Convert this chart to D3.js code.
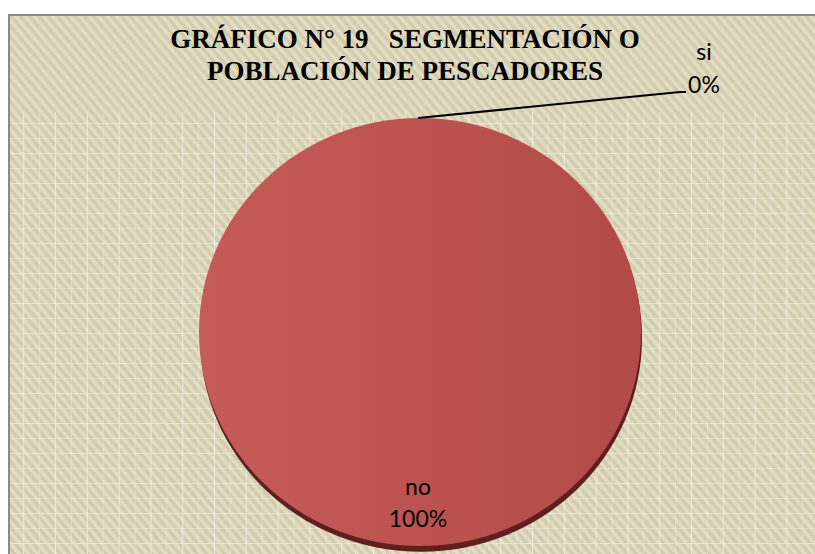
<!DOCTYPE html>
<html>
<head>
<meta charset="utf-8">
<script src="https://cdn.jsdelivr.net/npm/d3@7"></script>
<style>
  body { margin: 0; background: #fff; }
  svg { display: block; }
  .title { font-family: "Liberation Serif", "Times New Roman", "DejaVu Serif", serif; font-weight: bold; white-space: pre; }
</style>
</head>
<body>
<div id="chart"></div>
<script>
var categories = ["si", "no"];
var values = [0, 100];
var percentLabels = ["0%", "100%"];
var titleLines = ["GRÁFICO N° 19   SEGMENTACIÓN O", "POBLACIÓN DE PESCADORES"];

var W = 815, H = 554;
var cx = 420, cy = 332, rx = 221, ry = 214;

var svg = d3.select("#chart").append("svg")
    .attr("width", W)
    .attr("height", H);

var defs = svg.append("defs");

// diagonal texture of the chart area
var stripes = defs.append("pattern")
    .attr("id", "stripes")
    .attr("patternUnits", "userSpaceOnUse")
    .attr("width", 7).attr("height", 7)
    .attr("patternTransform", "rotate(-40)");
stripes.append("rect").attr("width", 7).attr("height", 7).attr("fill", "#d2ccac");
stripes.append("rect").attr("width", 3.5).attr("height", 7).attr("fill", "#e2ddc4");

// light grid of the plot area
var grid = defs.append("pattern")
    .attr("id", "grid")
    .attr("patternUnits", "userSpaceOnUse")
    .attr("x", 55).attr("y", 123)
    .attr("width", 31.8).attr("height", 30);
grid.append("rect").attr("x", 0).attr("y", 0).attr("width", 1).attr("height", 30).attr("fill", "#f4f1e6").attr("opacity", 0.8);
grid.append("rect").attr("x", 15.9).attr("y", 0).attr("width", 1).attr("height", 30).attr("fill", "#f4f1e6").attr("opacity", 0.4);
grid.append("rect").attr("x", 0).attr("y", 0).attr("width", 31.8).attr("height", 1).attr("fill", "#f4f1e6").attr("opacity", 0.6);
grid.append("rect").attr("x", 0).attr("y", 15).attr("width", 31.8).attr("height", 1).attr("fill", "#f4f1e6").attr("opacity", 0.4);

var pieGrad = defs.append("linearGradient")
    .attr("id", "pieGrad")
    .attr("x1", "0%").attr("y1", "0%").attr("x2", "100%").attr("y2", "0%");
pieGrad.append("stop").attr("offset", "0%").attr("stop-color", "#c65c59");
pieGrad.append("stop").attr("offset", "100%").attr("stop-color", "#b14a48");

// chart frame
svg.append("rect")
    .attr("x", 9).attr("y", 15)
    .attr("width", W).attr("height", H)
    .attr("fill", "url(#stripes)")
    .attr("stroke", "#8a8a8a")
    .attr("stroke-width", 2);

svg.append("rect")
    .attr("x", 10).attr("y", 112)
    .attr("width", W - 10).attr("height", H - 112)
    .attr("fill", "url(#grid)");

// title
svg.append("g").selectAll("text")
    .data(titleLines)
    .enter().append("text")
    .attr("class", "title")
    .attr("x", 405)
    .attr("y", function(d, i) { return 48 + i * 32; })
    .attr("text-anchor", "middle")
    .attr("font-size", 27)
    .attr("fill", "#000")
    .text(function(d) { return d; });

// pie
var pie = d3.pie().sort(null).value(function(d) { return d; });
var arcs = pie(values);
var arc = d3.arc().innerRadius(0).outerRadius(rx);

var pieG = svg.append("g")
    .attr("transform", "translate(" + cx + "," + cy + ") scale(1," + (ry / rx) + ")");

// shadow under the disk
pieG.append("ellipse")
    .attr("cx", 1).attr("cy", 6)
    .attr("rx", rx).attr("ry", rx)
    .attr("fill", "#5e1f1e");

pieG.selectAll("path.slice")
    .data(arcs)
    .enter().append("path")
    .attr("class", "slice")
    .attr("d", arc)
    .attr("fill", "url(#pieGrad)");

// labels
var labelFont = "Lato, 'Open Sans', sans-serif";

function edgePoint(d) {
    var a = (d.startAngle + d.endAngle) / 2;
    return [cx + Math.sin(a) * rx, cy - Math.cos(a) * ry];
}

// "si" slice: zero size, label outside with leader line
var siArc = arcs[0];
var p0 = edgePoint(siArc);
p0[0] -= 2;
svg.append("polyline")
    .attr("points", [p0, [680, 92], [686, 92]].map(function(p) { return p.join(","); }).join(" "))
    .attr("fill", "none")
    .attr("stroke", "#000")
    .attr("stroke-width", 2);

svg.append("text")
    .attr("x", 704).attr("y", 60)
    .attr("text-anchor", "middle")
    .attr("font-family", labelFont)
    .attr("font-size", 23)
    .text(categories[0]);
svg.append("text")
    .attr("x", 704).attr("y", 93)
    .attr("text-anchor", "middle")
    .attr("font-family", labelFont)
    .attr("font-size", 23)
    .text(percentLabels[0]);

// "no" slice: label inside near the bottom
svg.append("text")
    .attr("x", 418).attr("y", 495)
    .attr("text-anchor", "middle")
    .attr("font-family", labelFont)
    .attr("font-size", 23)
    .text(categories[1]);
svg.append("text")
    .attr("x", 418).attr("y", 527)
    .attr("text-anchor", "middle")
    .attr("font-family", labelFont)
    .attr("font-size", 23)
    .text(percentLabels[1]);
</script>
</body>
</html>
